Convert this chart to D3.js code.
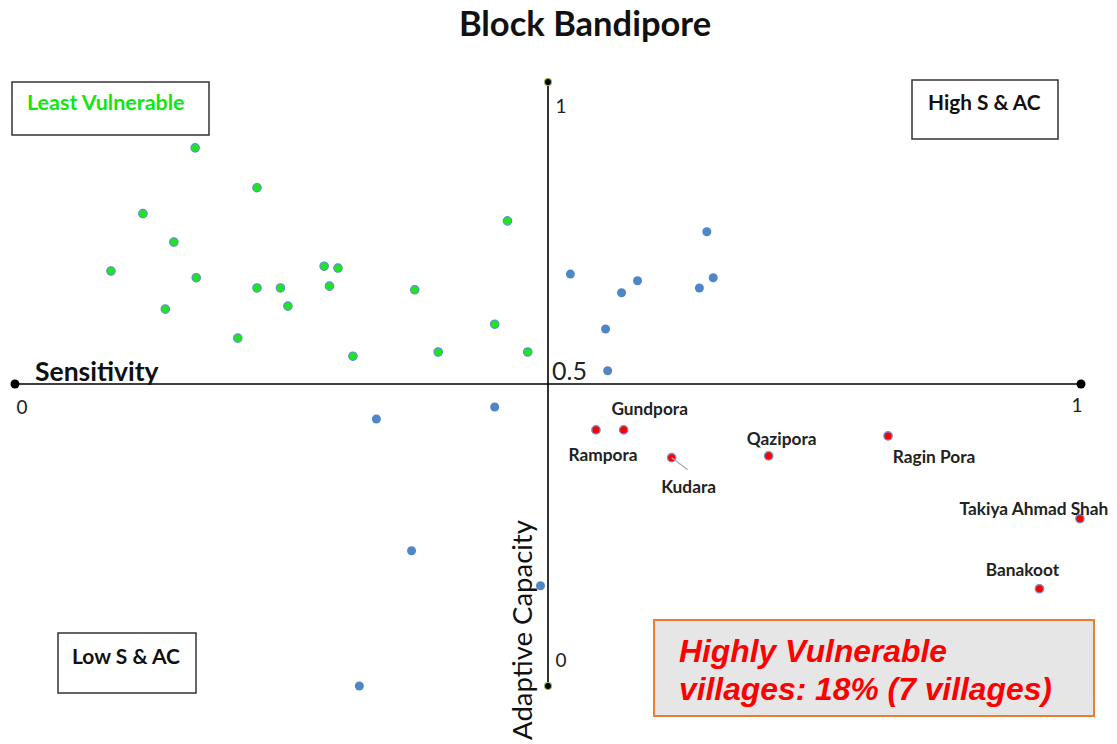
<!DOCTYPE html>
<html>
<head>
<meta charset="utf-8">
<script src="https://cdn.jsdelivr.net/npm/d3@7"></script>
<style>
  body { margin: 0; background: #fff; }
  svg { display: block; }
</style>
</head>
<body>
<svg id="chart" width="1117" height="744"></svg>
<script>
// ---------- DATA ----------
const title = "Block Bandipore";
// Least vulnerable (low sensitivity, high adaptive capacity)
const greenS  = [0.169,0.227,0.120,0.462,0.149,0.090,0.170,0.290,0.303,0.227,0.249,0.295,0.375,0.141,0.256,0.450,0.209,0.317,0.397,0.481];
const greenAC = [0.891,0.825,0.782,0.770,0.735,0.687,0.676,0.695,0.692,0.659,0.659,0.662,0.656,0.624,0.629,0.599,0.576,0.546,0.553,0.553];
// Other villages
const blueS  = [0.649,0.521,0.655,0.584,0.569,0.642,0.554,0.556,0.339,0.450,0.372,0.493,0.323];
const blueAC = [0.752,0.682,0.676,0.671,0.651,0.659,0.591,0.522,0.442,0.462,0.224,0.166,0.000];
// Highly vulnerable villages
const redNames = ["Rampora","Gundpora","Kudara","Qazipora","Ragin Pora","Takiya Ahmad Shah","Banakoot"];
const redS  = [0.545,0.571,0.616,0.707,0.819,0.999,0.961];
const redAC = [0.424,0.424,0.378,0.381,0.414,0.277,0.161];
const xTickLabels = ["0","1"];
const yTickLabels = ["0","1"];
const centerLabel = "0.5";
const xAxisTitle = "Sensitivity";
const yAxisTitle = "Adaptive Capacity";
const quadrantLabels = ["Least Vulnerable","High S & AC","Low S & AC"];
const noteLines = ["Highly Vulnerable","villages: 18% (7 villages)"];

// label placement (pixel offsets from the point)
const redLabelOffset = [[7,31],[26,-15],[17,35],[13,-11],[46,27],[-46,-4],[-17,-13]];

// ---------- DRAW ----------
const svg = d3.select("#chart");
const FONT = "Lato, 'Open Sans', sans-serif";
const x = d3.scaleLinear().domain([0,1]).range([15,1081]);
const y = d3.scaleLinear().domain([0,1]).range([686,82]);

svg.append("text").attr("x",585).attr("y",36).attr("text-anchor","middle")
  .attr("font-family",FONT).attr("font-weight","bold").attr("font-size",34.5)
  .attr("fill","#111").text(title);

// axes lines
const axes = svg.append("g");
axes.append("line").attr("x1",x(0)).attr("x2",x(1)).attr("y1",y(0.5)).attr("y2",y(0.5))
  .attr("stroke","#000").attr("stroke-width",1.6);
axes.append("line").attr("x1",x(0.5)).attr("x2",x(0.5)).attr("y1",y(0)).attr("y2",y(1))
  .attr("stroke","#000").attr("stroke-width",1.6);
// end markers
[[0,0.5],[1,0.5]].forEach(d=>{
  axes.append("circle").attr("cx",x(d[0])).attr("cy",y(d[1])).attr("r",4.5).attr("fill","#000");
});
[[0.5,0],[0.5,1]].forEach(d=>{
  axes.append("circle").attr("cx",x(d[0])).attr("cy",y(d[1])).attr("r",3.5).attr("fill","#000")
    .attr("stroke","#9bbb59").attr("stroke-width",1.2);
});

// tick labels
const tickStyle = s => s.attr("font-family",FONT).attr("font-size",19).attr("fill","#222");
tickStyle(svg.append("text").attr("x",x(0)+7).attr("y",y(0.5)+30).attr("text-anchor","middle").text(xTickLabels[0]));
tickStyle(svg.append("text").attr("x",x(1)-4).attr("y",y(0.5)+28).attr("text-anchor","middle").text(xTickLabels[1]));
tickStyle(svg.append("text").attr("x",x(0.5)+13).attr("y",y(0)-19).attr("text-anchor","middle").text(yTickLabels[0]));
tickStyle(svg.append("text").attr("x",x(0.5)+13).attr("y",y(1)+31).attr("text-anchor","middle").text(yTickLabels[1]));
svg.append("text").attr("x",x(0.5)+4).attr("y",y(0.5)-4).attr("font-family",FONT)
  .attr("font-size",25).attr("fill","#222").text(centerLabel);

// axis titles
svg.append("text").attr("x",35).attr("y",381).attr("font-family",FONT).attr("font-weight","bold")
  .attr("font-size",26.5).attr("fill","#111").text(xAxisTitle);
svg.append("text").attr("transform","translate(532,630) rotate(-90)").attr("text-anchor","middle")
  .attr("font-family",FONT).attr("font-size",27.5).attr("fill","#111").text(yAxisTitle);

// quadrant boxes
const boxes = [
  {x:12,y:82,w:197,h:53,tx:27,ty:110,c:"#11e611",fs:21.5},
  {x:912,y:80,w:146,h:59,tx:928,ty:110,c:"#111",fs:20.8},
  {x:58,y:633,w:138,h:60,tx:72,ty:664,c:"#111",fs:21}
];
boxes.forEach((b,i)=>{
  svg.append("rect").attr("x",b.x).attr("y",b.y).attr("width",b.w).attr("height",b.h)
    .attr("fill","#fff").attr("stroke","#333").attr("stroke-width",1.5);
  svg.append("text").attr("x",b.tx).attr("y",b.ty).attr("font-family",FONT).attr("font-weight","bold")
    .attr("font-size",b.fs).attr("fill",b.c).text(quadrantLabels[i]);
});

// note box
svg.append("rect").attr("x",654).attr("y",620).attr("width",440).attr("height",96)
  .attr("fill","#e6e6e6").attr("stroke","#ed7d31").attr("stroke-width",2);
noteLines.forEach((t,i)=>{
  svg.append("text").attr("x",679).attr("y",662+i*38).attr("font-family","'Liberation Sans', Arial, sans-serif")
    .attr("font-weight","bold").attr("font-style","italic").attr("font-size",31.8).attr("fill","#ff0000").text(t);
});

// points
const pts = svg.append("g");
const green = greenS.map((s,i)=>({s,ac:greenAC[i]}));
const blue = blueS.map((s,i)=>({s,ac:blueAC[i]}));
const red = redS.map((s,i)=>({s,ac:redAC[i],name:redNames[i],off:redLabelOffset[i]}));

pts.selectAll(".g").data(green).join("circle").attr("cx",d=>x(d.s)).attr("cy",d=>y(d.ac))
  .attr("r",4.2).attr("fill","#1ee61e").attr("stroke","#5b8fcf").attr("stroke-width",1.2);
pts.selectAll(".b").data(blue).join("circle").attr("cx",d=>x(d.s)).attr("cy",d=>y(d.ac))
  .attr("r",4.5).attr("fill","#4f86c8");

// Kudara leader line
const kud = red[2];
svg.append("line").attr("x1",x(kud.s)).attr("y1",y(kud.ac)).attr("x2",x(kud.s)+16).attr("y2",y(kud.ac)+12)
  .attr("stroke","#aaa").attr("stroke-width",1.2);

pts.selectAll(".r").data(red).join("circle").attr("cx",d=>x(d.s)).attr("cy",d=>y(d.ac))
  .attr("r",4.2).attr("fill","#ff0000").attr("stroke","#6e94d0").attr("stroke-width",1.3);

svg.selectAll(".lbl").data(red).join("text")
  .attr("x",d=>x(d.s)+d.off[0]).attr("y",d=>y(d.ac)+d.off[1]).attr("text-anchor","middle")
  .attr("font-family",FONT).attr("font-weight","bold").attr("font-size",17.3).attr("fill","#222")
  .text(d=>d.name);
</script>
</body>
</html>
